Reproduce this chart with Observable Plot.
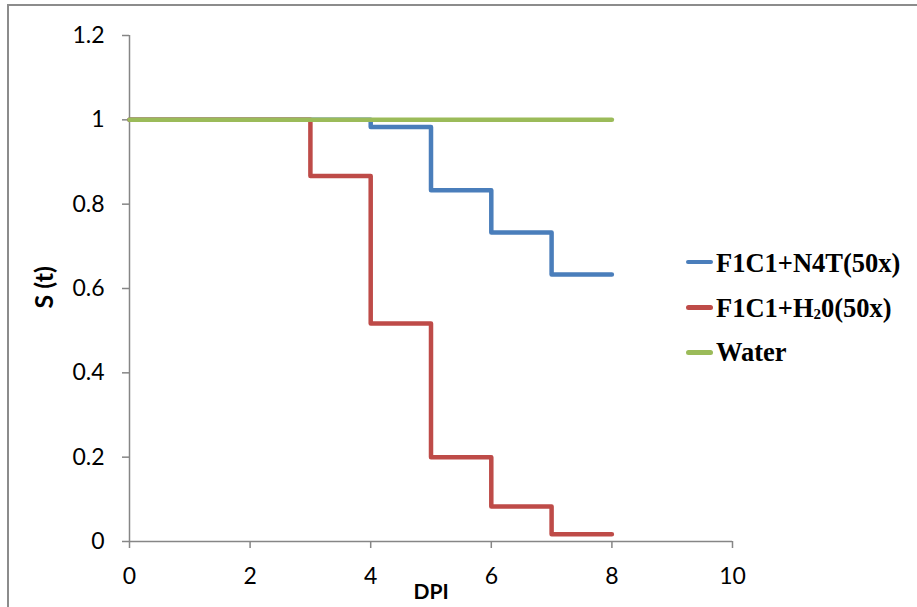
<!DOCTYPE html>
<html><head><meta charset="utf-8">
<script src="https://cdn.jsdelivr.net/npm/d3@7"></script>
<script src="https://cdn.jsdelivr.net/npm/@observablehq/plot@0.6"></script>
<style>
body{margin:0;background:#fff;}
#wrap{position:relative;width:917px;height:607px;overflow:hidden;background:#fff;}
#wrap svg{position:absolute;left:0;top:0;}
#frame{position:absolute;left:7px;top:4px;width:1000px;height:1000px;border-left:2px solid #8c8c8c;border-top:2px solid #8c8c8c;box-sizing:border-box;pointer-events:none;}
.lg-line{position:absolute;left:686px;width:27px;height:4.5px;border-radius:2.5px;}
.lg-text{position:absolute;left:716px;font-family:"Liberation Serif","Times New Roman",serif;font-weight:bold;font-size:26.5px;line-height:26px;color:#000;white-space:nowrap;}
.lg-text sub{font-size:15px;vertical-align:-2px;line-height:0;}
</style>
</head><body>
<div id="wrap"><div id="frame"></div></div>
<script>
// Data
const days = [0, 1, 2, 3, 4, 5, 6, 7, 8];
const n4t = [1, 1, 1, 1, 0.983, 0.833, 0.733, 0.633, 0.633];
const h2o = [1, 1, 1, 0.867, 0.517, 0.2, 0.083, 0.017, 0.017];
const water = [1, 1, 1, 1, 1, 1, 1, 1, 1];
const seriesNames = ["F1C1+N4T(50x)", "F1C1+H\u20820(50x)", "Water"];
const seriesHtml = ["F1C1+N4T(50x)", "F1C1+H<sub>2</sub>0(50x)", "Water"];
const seriesColors = ["#4A7EBB", "#BE4B48", "#9BBB59"];
const xTicks = [0, 2, 4, 6, 8, 10];
const yTicks = [0, 0.2, 0.4, 0.6, 0.8, 1, 1.2];
const xLabel = "DPI";
const yLabel = "S (t)";

const seriesValues = [n4t, h2o, water];
const rows = [];
seriesValues.forEach((vals, s) => {
  days.forEach((d, i) => rows.push({series: seriesNames[s], day: d, s: vals[i]}));
});

const axisColor = "#868686";
const tickFont = "Lato, 'Open Sans', sans-serif";

const chart = Plot.plot({
  width: 917,
  height: 607,
  marginLeft: 129,
  marginRight: 185,
  marginTop: 35,
  marginBottom: 66,
  style: {background: "transparent", fontFamily: tickFont, overflow: "visible"},
  x: {domain: [0, 10]},
  y: {domain: [0, 1.2]},
  marks: [
    Plot.ruleX([0], {stroke: axisColor, strokeWidth: 1.5}),
    Plot.ruleY([0], {stroke: axisColor, strokeWidth: 1.5}),
    Plot.axisY({ticks: yTicks, tickSize: 7, tickPadding: 18, fontSize: 23, stroke: axisColor, strokeWidth: 1.5, strokeOpacity: 1, fill: "#000", label: null, tickFormat: d => String(d)}),
    Plot.axisX({ticks: xTicks, tickSize: 7, tickPadding: 19, fontSize: 23, stroke: axisColor, strokeWidth: 1.5, strokeOpacity: 1, fill: "#000", label: null, tickFormat: d => String(d)}),
    ...seriesNames.map((name, s) => Plot.line(rows.filter(r => r.series === name), {
      x: "day", y: "s", curve: "step-after", stroke: seriesColors[s], strokeWidth: 4.5,
      strokeLinecap: "round", strokeLinejoin: "round"
    })),
    Plot.text([yLabel], {frameAnchor: "left", dx: -85, dy: 20, rotate: -90, fontSize: 25, fontWeight: "bold", fill: "#000"}),
    Plot.text([xLabel], {frameAnchor: "bottom", dy: 57, fontSize: 21, fontWeight: "bold", fill: "#000"})
  ]
});

const wrap = document.getElementById("wrap");
wrap.insertBefore(chart, wrap.firstChild);

const lineCY = [262, 307.7, 352.7];
const baseY = [272, 316.7, 360.7];
seriesHtml.forEach((html, i) => {
  const ln = document.createElement("div");
  ln.className = "lg-line";
  ln.style.top = (lineCY[i] - 2.25) + "px";
  ln.style.background = seriesColors[i];
  wrap.appendChild(ln);
  const tx = document.createElement("div");
  tx.className = "lg-text";
  tx.style.top = (baseY[i] - 21.8) + "px";
  tx.innerHTML = html;
  wrap.appendChild(tx);
});
</script>
</body></html>
